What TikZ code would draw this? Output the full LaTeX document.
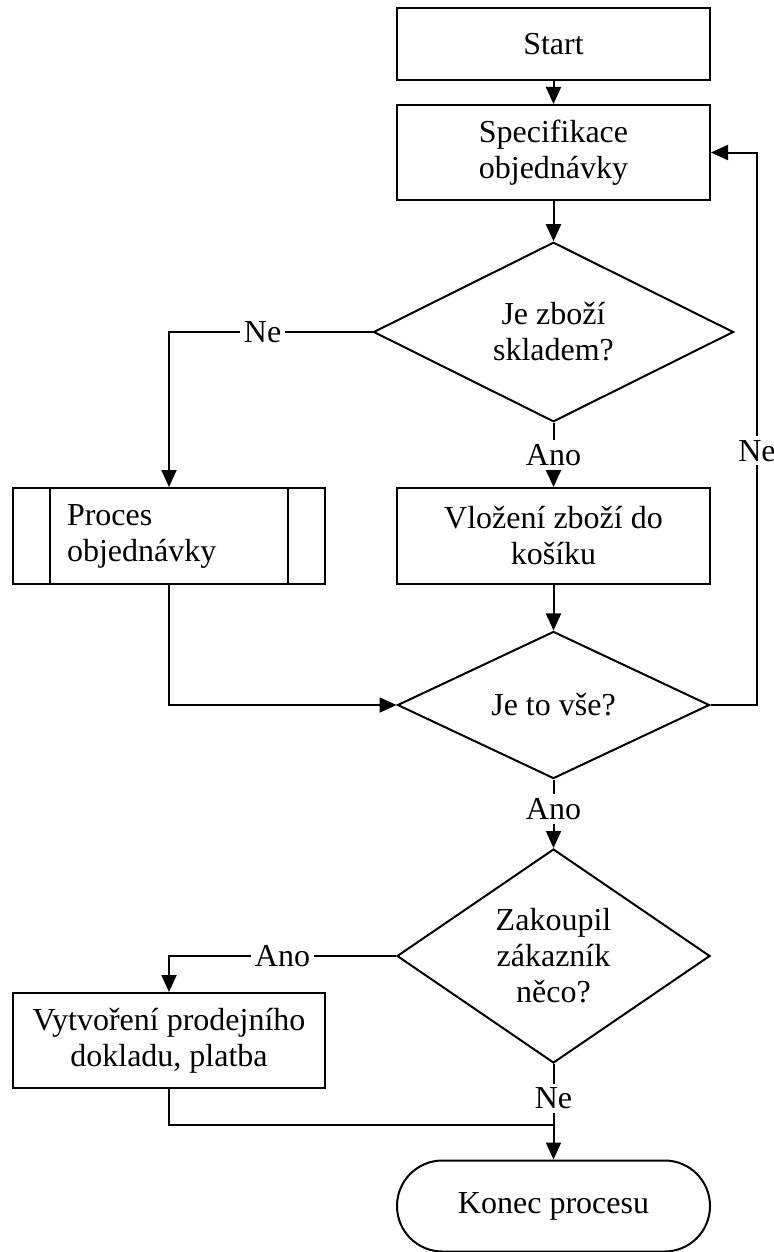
\documentclass[tikz,border=0pt]{standalone}
\usepackage{fontspec}
\setmainfont{Liberation Serif}
\usetikzlibrary{positioning}
\usetikzlibrary{calc}
\usetikzlibrary{arrows.meta}
\usetikzlibrary{shapes.geometric}

\begin{document}
\begin{tikzpicture}[x=0.5pt, y=-0.5pt, font=\fontsize{16}{18}\selectfont,
  box/.style={draw, line width=1pt, align=center, inner sep=0pt, minimum width=156.5pt},
  decision/.style={draw, diamond, line width=1pt, align=center, inner sep=0pt},
  flow/.style={line width=1pt, -{Triangle[length=8.5pt,width=7.5pt]}},
  link/.style={line width=1pt},
  lbl/.style={fill=white, inner sep=2pt}]
\useasboundingbox (0,0) rectangle (774,1252);
\node[box, minimum height=36pt] (start) at (553.5,44) {Start};
\node[box, minimum height=47.5pt] (spec) at (553.5,152.5) {Specifikace\\objednávky};
\node[decision, minimum width=180pt, minimum height=84pt] (d1) at (553.5,332) {Je zboží\\skladem?};
\node[box, minimum width=156pt, minimum height=48pt, text width=102pt, align=left] (proc) at (169,536) {Proces\\objednávky};
\draw[link] ([xshift=19pt]proc.north west) -- ([xshift=19pt]proc.south west);
\draw[link] ([xshift=-19pt]proc.north east) -- ([xshift=-19pt]proc.south east);
\node[box, minimum height=48pt] (vloz) at (553.5,536) {Vložení zboží do\\košíku};
\node[decision, minimum width=156pt, minimum height=72pt] (d2) at (553.5,705) {Je to vše?};
\node[decision, minimum width=156.5pt, minimum height=107pt] (d3) at (553.5,956) {Zakoupil\\zákazník\\něco?};
\node[box, minimum width=156pt, minimum height=47.5pt] (vyt) at (169,1040.5) {Vytvoření prodejního\\dokladu, platba};
\node[box, minimum height=45.5pt, rounded corners=22.7pt] (konec) at (553.5,1206) {Konec procesu};
\coordinate (loop) at (757,705);
\coordinate (join) at (553.5,1125);
\draw[flow] (start) -- (spec);
\draw[flow] (spec) -- (d1);
\draw[flow] (d1.south) -- node[lbl] (ano1) {Ano} (vloz.north);
\draw[flow] (d1.west) -| node[lbl, pos=0.27] (ne1) {Ne} (proc.north);
\draw[flow] (vloz) -- (d2);
\draw[flow] (proc.south) |- (d2.west);
\draw[flow] (d2.east) -- (loop) |- node[lbl, pos=0.23] (ne2) {Ne} (spec.east);
\draw[flow] (d2.south) -- node[lbl, pos=0.43] (ano2) {Ano} (d3.north);
\draw[flow] (d3.west) -| node[lbl, pos=0.25] (ano3) {Ano} (vyt.north);
\draw[link] (vyt.south) |- (join);
\draw[flow] (d3.south) -- node[lbl, pos=0.36] (ne3) {Ne} (konec.north);
\end{tikzpicture}
\end{document}
